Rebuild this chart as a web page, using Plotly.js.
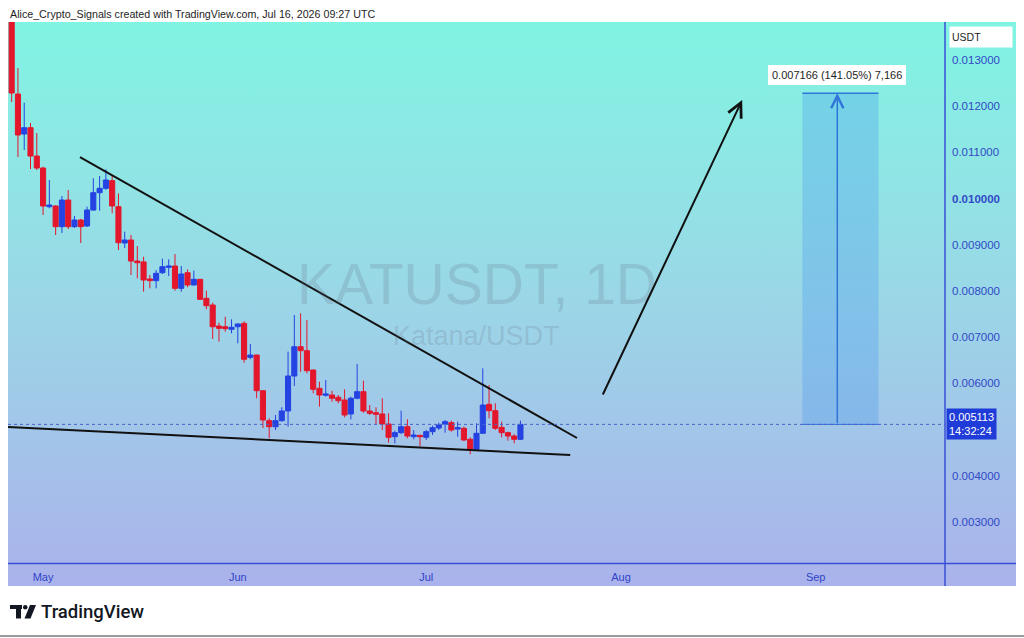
<!DOCTYPE html>
<html>
<head>
<meta charset="utf-8">
<script src="https://cdn.plot.ly/plotly-3.0.1.min.js"></script>
<style>
  html, body { margin: 0; padding: 0; background: #ffffff; }
  #wrap { position: relative; width: 1024px; height: 638px; overflow: hidden; }
  #bg { position: absolute; left: 8px; top: 22px; width: 1008px; height: 564px;
        background: linear-gradient(to bottom, #80f4e3 0%, #8fe6e4 25%, #9bd6e7 50%, #a3c4e9 75%, #aab2eb 100%); }
  #chart { position: absolute; left: 0; top: 0; width: 1024px; height: 638px; }
</style>
</head>
<body>
<div id="wrap"><div id="bg"></div><div id="chart"></div></div>
<script>
// ---- Data ----
const dates = [
  '2026-04-26','2026-04-27','2026-04-28','2026-04-29','2026-04-30',
  '2026-05-01','2026-05-02','2026-05-03','2026-05-04','2026-05-05','2026-05-06','2026-05-07','2026-05-08','2026-05-09','2026-05-10',
  '2026-05-11','2026-05-12','2026-05-13','2026-05-14','2026-05-15','2026-05-16','2026-05-17','2026-05-18','2026-05-19','2026-05-20',
  '2026-05-21','2026-05-22','2026-05-23','2026-05-24','2026-05-25','2026-05-26','2026-05-27','2026-05-28','2026-05-29','2026-05-30','2026-05-31',
  '2026-06-01','2026-06-02','2026-06-03','2026-06-04','2026-06-05','2026-06-06','2026-06-07','2026-06-08','2026-06-09','2026-06-10',
  '2026-06-11','2026-06-12','2026-06-13','2026-06-14','2026-06-15','2026-06-16','2026-06-17','2026-06-18','2026-06-19','2026-06-20',
  '2026-06-21','2026-06-22','2026-06-23','2026-06-24','2026-06-25','2026-06-26','2026-06-27','2026-06-28','2026-06-29','2026-06-30',
  '2026-07-01','2026-07-02','2026-07-03','2026-07-04','2026-07-05','2026-07-06','2026-07-07','2026-07-08','2026-07-09','2026-07-10',
  '2026-07-11','2026-07-12','2026-07-13','2026-07-14','2026-07-15','2026-07-16'
];
const openP = [
  0.013950,0.012264,0.011398,0.011535,0.010922,
  0.010662,0.009825,0.009840,0.009392,0.009970,0.009392,0.009537,0.009407,0.009753,0.010128,
  0.010223,0.010389,0.009825,0.009039,0.009104,0.008649,0.008630,0.008260,0.008224,0.008396,
  0.008513,0.008541,0.008058,0.008396,0.008130,0.008253,0.007842,0.007697,0.007242,0.007227,0.007171,
  0.007227,0.007300,0.006565,0.006615,0.005842,0.005193,0.005063,0.005193,0.005403,0.006160,
  0.006794,0.006708,0.006290,0.005894,0.005743,0.005749,0.005700,0.005641,0.005338,0.005678,
  0.005821,0.005403,0.005366,0.005338,0.005121,0.004847,0.004934,0.005063,0.004847,0.004876,
  0.004833,0.004955,0.005034,0.005121,0.005150,0.005013,0.005027,0.004790,0.004574,0.004920,
  0.005546,0.005409,0.005049,0.004934,0.004861,0.004790
];
const highP = [
  0.014100,0.012827,0.012076,0.011636,0.011420,
  0.010690,0.010403,0.009860,0.010056,0.010186,0.009623,0.009560,0.009825,0.010440,0.010489,
  0.010634,0.010511,0.010113,0.009284,0.009212,0.008974,0.008742,0.008346,0.008455,0.008700,
  0.008686,0.008800,0.008541,0.008468,0.008440,0.008260,0.008006,0.007747,0.007314,0.007444,0.007387,
  0.007300,0.007344,0.006853,0.006620,0.005845,0.005245,0.005316,0.005483,0.006686,0.007481,
  0.007517,0.007372,0.006300,0.006037,0.006074,0.005840,0.005749,0.005872,0.005714,0.006420,
  0.006059,0.005532,0.005483,0.005678,0.005353,0.004977,0.005409,0.005223,0.004991,0.004883,
  0.004991,0.005085,0.005150,0.005208,0.005193,0.005171,0.005063,0.004833,0.005136,0.006327,
  0.005965,0.005570,0.005171,0.004955,0.004900,0.005193
];
const lowP = [
  0.012091,0.010900,0.011052,0.010641,0.010619,
  0.009645,0.009790,0.009212,0.009255,0.009342,0.009364,0.009039,0.009385,0.009738,0.009738,
  0.010186,0.009682,0.008887,0.008931,0.008346,0.008275,0.007985,0.008058,0.008058,0.008368,
  0.008325,0.008006,0.007985,0.008080,0.008120,0.007805,0.007604,0.006961,0.006903,0.007119,0.007084,
  0.006868,0.006448,0.006522,0.005678,0.005035,0.004812,0.004991,0.005171,0.005063,0.005944,
  0.006253,0.006218,0.005786,0.005496,0.005714,0.005604,0.005569,0.005266,0.005223,0.005656,
  0.005366,0.005316,0.005100,0.004991,0.004717,0.004703,0.004905,0.004812,0.004790,0.004645,
  0.004775,0.004883,0.004991,0.004934,0.004955,0.004847,0.004753,0.004466,0.004558,0.004905,
  0.005245,0.004991,0.004833,0.004760,0.004703,0.004775
];
const closeP = [
  0.012286,0.011377,0.011535,0.010922,0.010662,
  0.009840,0.009861,0.009392,0.009970,0.009392,0.009537,0.009392,0.009753,0.010128,0.010223,
  0.010403,0.009840,0.009045,0.009104,0.008649,0.008613,0.008238,0.008224,0.008383,0.008526,
  0.008541,0.008058,0.008368,0.008130,0.008253,0.007820,0.007682,0.007227,0.007192,0.007184,0.007214,
  0.007286,0.006522,0.006615,0.005842,0.005208,0.005063,0.005193,0.005403,0.006160,0.006794,
  0.006708,0.006275,0.005872,0.005749,0.005771,0.005678,0.005626,0.005316,0.005678,0.005821,
  0.005403,0.005353,0.005331,0.005121,0.004833,0.004934,0.005063,0.004861,0.004883,0.004847,
  0.004955,0.005041,0.005100,0.005171,0.004991,0.005041,0.004775,0.004574,0.004920,0.005532,
  0.005409,0.005028,0.004934,0.004861,0.004790,0.005113
];

const yTickVals = [0.003,0.004,0.005,0.006,0.007,0.008,0.009,0.010,0.011,0.012,0.013];
const yTickText = ['0.003000','0.004000','','0.006000','0.007000','0.008000','0.009000','<b>0.010000</b>','0.011000','0.012000','0.013000'];
const xTickVals = ['2026-05-01','2026-06-01','2026-07-01','2026-08-01','2026-09-01'];
const xTickText = ['May','Jun','Jul','Aug','Sep'];

const lastPrice = 0.005113;
const targetGain = 0.007166;
const targetPrice = lastPrice + targetGain;

// drawing tools (trendlines / projection)
const upperLineX = ['2026-05-06 21:00','2026-07-25 00:00'];
const upperLineY = [0.010900, 0.004818];
const lowerLineX = ['2026-04-25 10:00','2026-07-23 22:00'];
const lowerLineY = [0.005056, 0.004450];
const arrowX = ['2026-07-29 00:00','2026-08-20 07:00'];
const arrowY = [0.005727, 0.012134];
const rangeX = ['2026-08-29 21:00','2026-09-11 00:00','2026-09-04 10:30'];

const UP = '#2443e2', DOWN = '#e3162c';
const FONT = 'Liberation Sans, Arial, sans-serif';

// paper coordinate helpers (plot area: x 8..945, y 22..565)
const PL = 8, PR = 945, PT = 22, PB = 565;
const px = v => (v - PL) / (PR - PL);
const py = v => (PB - v) / (PB - PT);

const trace = {
  type: 'candlestick',
  x: dates, open: openP, high: highP, low: lowP, close: closeP,
  increasing: { line: { color: UP, width: 1 }, fillcolor: UP },
  decreasing: { line: { color: DOWN, width: 1 }, fillcolor: DOWN },
  whiskerwidth: 0,
  hoverinfo: 'skip',
  showlegend: false
};

const shapes = [
  // range tool box
  { type: 'rect', xref: 'x', yref: 'y', x0: rangeX[0], x1: rangeX[1], y0: lastPrice, y1: targetPrice,
    fillcolor: 'rgba(70,150,240,0.30)', line: { width: 0 }, layer: 'below' },
  { type: 'line', xref: 'x', yref: 'y', x0: rangeX[0], x1: rangeX[1], y0: targetPrice, y1: targetPrice,
    line: { color: '#2f74d8', width: 1.5 } },
  { type: 'line', xref: 'x', yref: 'y', x0: rangeX[0], x1: rangeX[1], y0: lastPrice, y1: lastPrice,
    line: { color: '#2f74d8', width: 1 } },
  // trendlines
  { type: 'line', xref: 'x', yref: 'y', x0: upperLineX[0], x1: upperLineX[1], y0: upperLineY[0], y1: upperLineY[1],
    line: { color: '#111111', width: 2 } },
  { type: 'line', xref: 'x', yref: 'y', x0: lowerLineX[0], x1: lowerLineX[1], y0: lowerLineY[0], y1: lowerLineY[1],
    line: { color: '#111111', width: 2 } },
  // last price dotted line
  { type: 'line', xref: 'paper', yref: 'y', x0: 0, x1: 1, y0: lastPrice, y1: lastPrice,
    line: { color: '#4a62c8', width: 1, dash: 'dot' } },
  // axes frame lines
  { type: 'line', xref: 'paper', yref: 'paper', x0: px(8), x1: px(1016), y0: py(563.5), y1: py(563.5),
    line: { color: '#3a4fd6', width: 1.5 } },
  { type: 'line', xref: 'paper', yref: 'paper', x0: px(945), x1: px(945), y0: py(22), y1: py(586),
    line: { color: '#3a4fd6', width: 1.5 } },
  // bottom grey rule
  { type: 'line', xref: 'paper', yref: 'paper', x0: px(0), x1: px(1024), y0: py(636), y1: py(636),
    line: { color: '#9a9a9a', width: 2 } },
  // TradingView logo mark
  { type: 'rect', xref: 'paper', yref: 'paper', x0: px(10), x1: px(22), y0: py(609), y1: py(605),
    fillcolor: '#131722', line: { width: 0 } },
  { type: 'rect', xref: 'paper', yref: 'paper', x0: px(16), x1: px(21), y0: py(618.5), y1: py(605),
    fillcolor: '#131722', line: { width: 0 } },
  { type: 'circle', xref: 'paper', yref: 'paper', x0: px(23), x1: px(27.5), y0: py(609.5), y1: py(605),
    fillcolor: '#131722', line: { width: 0 } },
  { type: 'path', xref: 'paper', yref: 'paper',
    path: 'M' + px(30) + ',' + py(605) + ' L' + px(36) + ',' + py(605) + ' L' + px(30.5) + ',' + py(618.5) + ' L' + px(24.5) + ',' + py(618.5) + ' Z',
    fillcolor: '#131722', line: { width: 0 } }
];

const annotations = [
  { xref: 'paper', yref: 'paper', x: px(8), y: py(14), xanchor: 'left', yanchor: 'middle', showarrow: false,
    text: 'Alice_Crypto_Signals created with TradingView.com, Jul 16, 2026 09:27 UTC',
    font: { family: FONT, size: 10.7, color: '#1e1e1e' } },
  // watermark
  { xref: 'paper', yref: 'paper', x: 0.5, y: py(284), xanchor: 'center', yanchor: 'middle', showarrow: false,
    text: 'KATUSDT, 1D', font: { family: FONT, size: 57, color: 'rgba(95,105,125,0.2)' } },
  { xref: 'paper', yref: 'paper', x: 0.5, y: py(336), xanchor: 'center', yanchor: 'middle', showarrow: false,
    text: 'Katana/USDT', font: { family: FONT, size: 27, color: 'rgba(95,105,125,0.2)' } },
  // projection arrow
  { xref: 'x', yref: 'y', axref: 'x', ayref: 'y', x: arrowX[1], y: arrowY[1], ax: arrowX[0], ay: arrowY[0],
    showarrow: true, arrowhead: 5, arrowsize: 1.4, arrowwidth: 2, arrowcolor: '#111111', text: '' },
  // range arrow
  { xref: 'x', yref: 'y', axref: 'x', ayref: 'y', x: rangeX[2], y: targetPrice, ax: rangeX[2], ay: lastPrice,
    showarrow: true, arrowhead: 5, arrowsize: 1.6, arrowwidth: 1.5, arrowcolor: '#2f74d8', text: '' },
  // range label
  { xref: 'x', yref: 'y', x: rangeX[2], y: targetPrice, yshift: 18, xanchor: 'center', yanchor: 'middle', showarrow: false,
    text: '0.007166 (141.05%) 7,166', bgcolor: '#ffffff', bordercolor: '#ffffff', borderpad: 3,
    font: { family: FONT, size: 11, color: '#1e1e1e' } },
  // USDT box
  { xref: 'paper', yref: 'paper', x: px(949), y: py(37), xanchor: 'left', yanchor: 'middle', showarrow: false,
    text: 'USDT', width: 58, height: 16, align: 'left', bgcolor: '#ffffff', borderpad: 2,
    font: { family: FONT, size: 10.5, color: '#1e1e1e' } },
  // last price label
  { xref: 'paper', yref: 'y', x: px(946), y: lastPrice, xanchor: 'left', yanchor: 'middle', showarrow: false,
    text: '0.005113<br>14:32:24', align: 'left', bgcolor: '#1f3bd8', borderpad: 2,
    font: { family: FONT, size: 11, color: '#ffffff' } },
  // TradingView wordmark
  { xref: 'paper', yref: 'paper', x: px(39), y: py(612), xanchor: 'left', yanchor: 'middle', showarrow: false,
    text: 'TradingView', font: { family: 'Roboto, ' + FONT, size: 18.5, color: '#131722', weight: 500 } }
];

const layout = {
  width: 1024, height: 638,
  margin: { l: PL, r: 1024 - PR, t: PT, b: 638 - PB, pad: 0 },
  paper_bgcolor: 'rgba(0,0,0,0)',
  plot_bgcolor: 'rgba(0,0,0,0)',
  showlegend: false,
  boxgap: 0.1, boxgroupgap: 0.1,
  xaxis: {
    type: 'date',
    range: ['2026-04-25 10:00', '2026-09-21 14:00'],
    tickvals: xTickVals, ticktext: xTickText,
    tickfont: { family: FONT, size: 11, color: '#3143c8' },
    showgrid: false, zeroline: false, showline: false, ticks: '',
    ticklabelstandoff: 4,
    rangeslider: { visible: false },
    fixedrange: true
  },
  yaxis: {
    side: 'right',
    range: [0.002069, 0.013823],
    tickvals: yTickVals, ticktext: yTickText,
    tickfont: { family: FONT, size: 11.5, color: '#3149c6' },
    showgrid: false, zeroline: false, showline: false, ticks: '',
    ticklabelstandoff: 6,
    fixedrange: true
  },
  shapes: shapes,
  annotations: annotations,
  hovermode: false
};

Plotly.newPlot('chart', [trace], layout, { staticPlot: true, displayModeBar: false });
</script>
</body>
</html>
